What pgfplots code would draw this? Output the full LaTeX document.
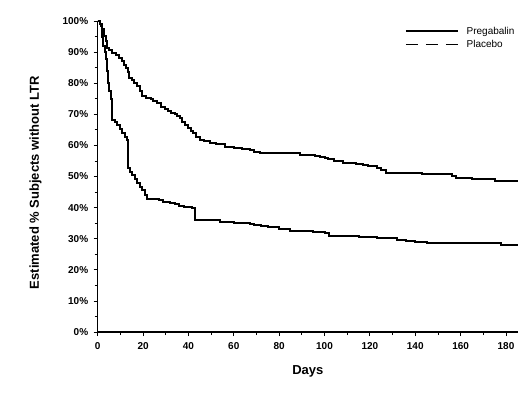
\documentclass[border=0pt]{standalone}
\usepackage{pgfplots}
\pgfplotsset{compat=1.18}
\usepackage{fontspec}
\setmainfont{Liberation Sans}
\begin{document}
\begin{tikzpicture}
\begin{axis}[
 name=ax,
 scale only axis,
 width=420.3pt, height=311pt,
 xmin=0, xmax=185.3, ymin=0, ymax=100,
 axis lines=left,
 axis line style={-, line width=1.3pt},
 xtick={0,20,...,180}, minor xtick={10,30,...,170},
 ytick={0,10,...,100}, minor ytick={5,15,...,95},
 tick align=outside,
 major tick length=4pt, minor tick length=3pt,
 tick style={line width=0.8pt, black},
 /pgf/number format/assume math mode=true,
 yticklabel={\pgfmathprintnumber{\tick}\%},
 ticklabel style={font=\bfseries\fontsize{10}{11}\selectfont},
 xticklabel style={yshift=-3pt},
 yticklabel style={xshift=-2pt},
 xlabel={Days}, ylabel={Estimated \% Subjects without LTR},
 xlabel style={at={(axis description cs:0.5,-0.125)}, anchor=center, font=\bfseries\fontsize{13}{14}\selectfont},
 ylabel style={at={(axis description cs:-0.148,0.48)}, anchor=center, font=\bfseries\fontsize{13}{14}\selectfont},
 legend style={at={(axis description cs:0.731,0.985)}, anchor=north west, draw=none, fill=none,
   font=\fontsize{10}{12}\selectfont, inner sep=0pt, row sep=2.5pt, nodes={inner sep=1pt}},
 legend cell align=left,
 legend image code/.code={\draw[#1] (0pt,0pt) -- (52pt,0pt); \path (59pt,0pt);},
]
\addplot[black, line width=2pt, const plot, forget plot] coordinates {
(0,100) (1,99) (2,97.3) (2.8,95.2) (3.5,93.5) (4.2,91.4) (5,90.8) (6.4,89.8) (8,89)
(9.4,88.2) (10.5,87) (11.5,86) (12.3,85) (13.2,83.5) (13.8,81.8) (15,81) (16.2,80)
(17.4,79.1) (18.5,77.5) (19.6,75.9) (21.5,75.4) (23.3,75) (24.5,74.2) (26,73.5)
(28,72.4) (29.5,71.6) (31,71) (32.5,70.4) (34,70) (35,69.3) (36.2,68.7) (37.3,67.6)
(38.4,66.6) (40,65.5) (41,64.6) (42,63.9) (43.5,62.8) (45,61.7) (47,61.3) (49.4,60.9)
(52,60.3) (56,59.6) (60,59.2) (63.4,58.7) (67,58.4) (69,58) (71.4,57.5) (89,57)
(96,56.7) (98,56.3) (100,55.8) (101.5,55.5) (104,55) (108,54.5) (114,54) (117,53.7)
(119,53.3) (123,52.7) (125,52.2) (127,51.1) (143,50.7) (156,50.2) (158,49.5)
(165,49.2) (175,48.7) (185.3,48.7)
};
\addplot[black, line width=2pt, const plot, forget plot] coordinates {
(0,100) (0.8,99) (1.3,98.4) (1.8,95) (2.5,92) (3,90) (3.5,87.7) (4,84) (4.5,80)
(5,77.5) (5.7,74.8) (6.1,71) (6.4,68.2) (7.5,67.4) (8.6,66.6) (9.7,65.2) (10.8,63.9)
(12,62.8) (13,61.7) (13.3,52.6) (14.2,51.5) (15.2,50.5) (16.3,49.1) (17.4,47.8)
(18.5,46.7) (19.6,45.7) (20.7,44.2) (21.8,42.7) (27,42.3) (29,41.9) (31.8,41.4)
(34,41) (36,40.5) (38,40.2) (41.4,39.8) (42.8,36) (53.8,35.5) (60,35.2) (64,34.9)
(67,34.7) (69,34.4) (72,34.1) (75,33.7) (80,33.2) (85,32.6) (95,32.3) (100,31.8)
(102,30.9) (115,30.6) (123,30.1) (132,29.7) (136,29.4) (140,29) (145,28.5) (178,28)
(185.3,28)
};
\addlegendimage{black, line width=1.5pt, solid}
\addlegendentry{Pregabalin}
\addlegendimage{black, line width=1.5pt, dash pattern=on 11.7pt off 8.3pt}
\addlegendentry{Placebo}
\end{axis}
\path ([shift={(-97.7pt,-62pt)}]ax.south west) rectangle ++(527pt,394pt);
\end{tikzpicture}
\end{document}
